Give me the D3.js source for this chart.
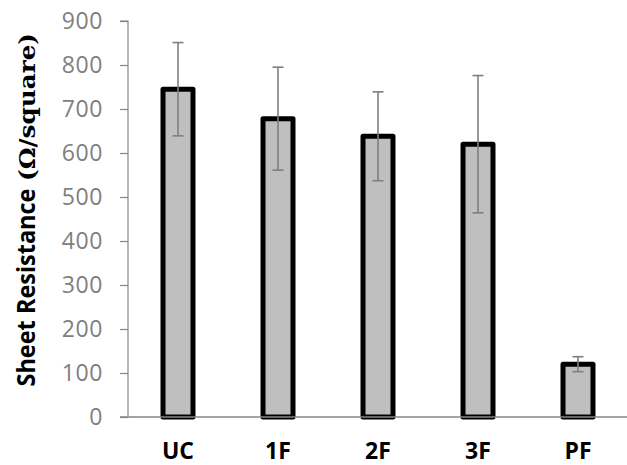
<!DOCTYPE html>
<html>
<head>
<meta charset="utf-8">
<script src="https://cdn.jsdelivr.net/npm/d3@7"></script>
<style>
  html, body { margin: 0; padding: 0; background: #fff; }
  svg { display: block; }
</style>
</head>
<body>
<div id="chart"></div>
<script>
// Sample categories and measured sheet resistance (mean and std dev)
const categories = ['UC', '1F', '2F', '3F', 'PF'];
const means = [745, 678, 638, 620, 120];
const errors = [106, 117, 101, 156, 17];
const yTicks = [0, 100, 200, 300, 400, 500, 600, 700, 800, 900];

const width = 627;
const height = 465;
const margin = { top: 21, right: -1, bottom: 48, left: 128 };

const svg = d3.select('#chart').append('svg')
  .attr('width', width)
  .attr('height', height);

const x = d3.scaleBand()
  .domain(categories)
  .range([margin.left, width - margin.right])
  .paddingInner(0.65)
  .paddingOuter(0.325);

const y = d3.scaleLinear()
  .domain([0, 900])
  .range([height - margin.bottom, margin.top]);

// Y axis
const yAxis = svg.append('g')
  .attr('transform', `translate(${margin.left},0)`)
  .call(d3.axisLeft(y).tickValues(yTicks).tickSize(8).tickPadding(17));
yAxis.select('.domain').attr('stroke', '#868686').attr('stroke-width', 1.2)
  .attr('d', `M-8,${y(900)}H0V${y(0)}`);
yAxis.selectAll('.tick line').attr('stroke', '#868686').attr('stroke-width', 1.2);
yAxis.selectAll('.tick text')
  .attr('fill', '#808080')
  .style('font-family', '"Open Sans", sans-serif')
  .style('font-size', '23px')
  .style('letter-spacing', '0.6px');

// Bars
const bw = 30;
svg.selectAll('.bar')
  .data(categories)
  .join('rect')
  .attr('class', 'bar')
  .attr('x', (d) => x(d) + x.bandwidth() / 2 - bw / 2)
  .attr('y', (d, i) => y(means[i]))
  .attr('width', bw)
  .attr('height', (d, i) => y(0) - y(means[i]))
  .attr('fill', '#bfbfbf')
  .attr('stroke', '#000')
  .attr('stroke-width', 5)
  .attr('stroke-linejoin', 'round');

// X axis line (drawn over bar bottoms)
svg.append('line')
  .attr('x1', margin.left - 8)
  .attr('x2', width)
  .attr('y1', y(0))
  .attr('y2', y(0))
  .attr('stroke', '#868686')
  .attr('stroke-width', 1.5);

// Error bars
const eb = svg.selectAll('.err')
  .data(categories)
  .join('g')
  .attr('class', 'err')
  .attr('stroke', '#7f7f7f')
  .attr('stroke-width', 1.6);
eb.append('line')
  .attr('x1', (d) => x(d) + x.bandwidth() / 2)
  .attr('x2', (d) => x(d) + x.bandwidth() / 2)
  .attr('y1', (d, i) => y(means[i] + errors[i]))
  .attr('y2', (d, i) => y(means[i] - errors[i]));
[1, -1].forEach((s) => {
  eb.append('line')
    .attr('x1', (d) => x(d) + x.bandwidth() / 2 - 5.5)
    .attr('x2', (d) => x(d) + x.bandwidth() / 2 + 5.5)
    .attr('y1', (d, i) => y(means[i] + s * errors[i]))
    .attr('y2', (d, i) => y(means[i] + s * errors[i]));
});

// Category labels
svg.selectAll('.cat')
  .data(categories)
  .join('text')
  .attr('class', 'cat')
  .attr('x', (d) => x(d) + x.bandwidth() / 2)
  .attr('y', 459)
  .attr('text-anchor', 'middle')
  .style('font-family', '"Open Sans", sans-serif')
  .style('font-weight', 'bold')
  .style('font-size', '23px')
  .attr('fill', '#000')
  .text((d) => d);

// Y axis title
svg.append('text')
  .attr('transform', 'translate(35,386.5) rotate(-90)')
  .attr('textLength', 198)
  .attr('lengthAdjust', 'spacingAndGlyphs')
  .style('font-family', '"Open Sans", sans-serif')
  .style('font-weight', 'bold')
  .style('font-size', '25px')
  .text('Sheet Resistance');
svg.append('text')
  .attr('transform', 'translate(35,181) rotate(-90)')
  .attr('textLength', 148)
  .attr('lengthAdjust', 'spacingAndGlyphs')
  .style('font-family', '"DejaVu Serif", serif')
  .style('font-weight', 'bold')
  .style('font-size', '22px')
  .text('(Ω/square)');
</script>
</body>
</html>
